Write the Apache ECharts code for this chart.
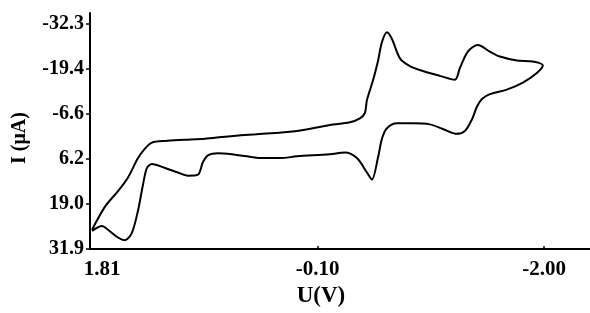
<!DOCTYPE html>
<html>
<head>
<meta charset="utf-8">
<script src="https://cdn.jsdelivr.net/npm/echarts@6/dist/echarts.min.js"></script>
<style>
  html, body { margin: 0; padding: 0; background: #fff; }
  #chart { width: 590px; height: 313px; }
</style>
</head>
<body>
<div id="chart"></div>
<script>
// potential (V) and current (uA), loop
const potential = [
  1.793, 1.684, 1.575, 1.491, 1.407, 1.349, 1.290, 1.181, 1.013, 0.845,
  0.677, 0.510, 0.359, 0.073, -0.203, -0.371, -0.455, -0.497, -0.514, -0.564,
  -0.606, -0.640, -0.682, -0.724, -0.791, -0.875, -0.984, -1.126, -1.252, -1.294,
  -1.361, -1.445, -1.546, -1.630, -1.772, -1.906, -1.990,
  -1.940, -1.823, -1.688, -1.546, -1.479, -1.437, -1.395, -1.336, -1.269, -1.151,
  -1.042, -0.900, -0.766, -0.682, -0.640, -0.606, -0.556, -0.514, -0.430, -0.329,
  -0.203, 0.073, 0.216, 0.359, 0.493, 0.619, 0.736, 0.820, 0.862, 0.904,
  0.988, 1.072, 1.181, 1.290, 1.332, 1.365, 1.407, 1.458, 1.516, 1.575,
  1.659, 1.709, 1.793
];
const current = [
  26.4, 19.8, 15.4, 11.5, 6.0, 3.3, 1.6, 1.1, 0.8, 0.5,
  -0.1, -0.6, -0.9, -1.7, -3.4, -4.2, -5.3, -6.9, -10.5, -16.0,
  -21.5, -27.0, -29.8, -27.9, -22.4, -20.2, -18.8, -17.4, -16.3, -19.6,
  -24.3, -26.2, -24.3, -22.9, -21.8, -21.5, -20.4,
  -18.2, -15.5, -13.5, -12.2, -10.8, -8.6, -5.0, -1.7, -0.9, -2.3,
  -3.6, -3.9, -3.9, -2.5, 0.5, 6.0, 12.1, 10.1, 6.0, 4.4,
  4.9, 5.5, 6.0, 6.0, 5.5, 4.9, 4.6, 5.2, 7.1, 10.7,
  11.0, 10.1, 8.8, 7.7, 8.8, 13.5, 20.9, 27.2, 29.4, 28.6,
  26.4, 25.3, 26.7
];
const xTicks = [1.81, -0.10, -2.00];
const yTicks = [-32.3, -19.4, -6.6, 6.2, 19.0, 31.9];

const chart = echarts.init(document.getElementById('chart'));
const font = 'Liberation Serif';

const option = {
  animation: false,
  grid: { left: 90, right: 0, top: 13, bottom: 56 },
  xAxis: {
    type: 'value',
    inverse: true,
    min: -2.386,
    max: 1.81,
    name: 'U(V)',
    nameLocation: 'middle',
    nameGap: 35,
    nameTextStyle: {
      fontFamily: font, fontWeight: 'bold', fontSize: 23, color: '#000',
      padding: [0, 38, 0, 0]
    },
    splitLine: { show: false },
    axisLine: { onZero: false, lineStyle: { color: '#000', width: 2 } },
    axisTick: {
      customValues: xTicks, length: 3, inside: true,
      lineStyle: { color: '#000', width: 1.5 }
    },
    axisLabel: {
      customValues: xTicks,
      margin: 10,
      fontFamily: font, fontWeight: 'bold', fontSize: 21, color: '#000',
      formatter: v => v === 1.81 ? '{first|1.81}' : v.toFixed(2),
      rich: {
        first: {
          fontFamily: font, fontWeight: 'bold', fontSize: 21, color: '#000',
          padding: [0, 0, 0, 24]
        }
      }
    }
  },
  yAxis: {
    type: 'value',
    inverse: true,
    min: -35.3,
    max: 31.9,
    name: 'I (μA)',
    nameLocation: 'middle',
    nameRotate: 90,
    nameGap: 60,
    nameTextStyle: {
      fontFamily: font, fontWeight: 'bold', fontSize: 20, color: '#000',
      padding: [0, 14, 0, 0]
    },
    splitLine: { show: false },
    axisLine: { onZero: false, lineStyle: { color: '#000', width: 2 } },
    axisTick: {
      customValues: yTicks, length: 4,
      lineStyle: { color: '#000', width: 1.5 }
    },
    axisLabel: {
      customValues: yTicks,
      margin: 6,
      fontFamily: font, fontWeight: 'bold', fontSize: 20, color: '#000',
      formatter: v => v.toFixed(1)
    }
  },
  series: [{
    type: 'line',
    data: potential.map((x, i) => [x, current[i]]),
    showSymbol: false,
    smooth: 0.3,
    lineStyle: { color: '#000', width: 2 }
  }]
};

chart.setOption(option);
</script>
</body>
</html>
